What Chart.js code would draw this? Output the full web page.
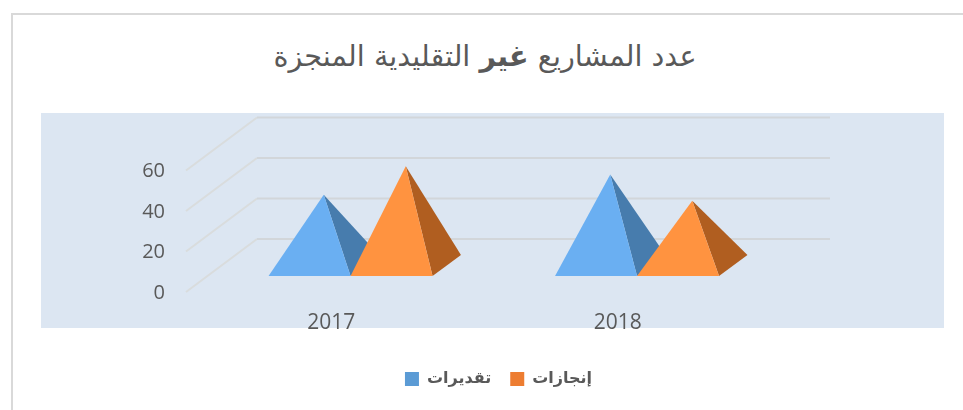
<!DOCTYPE html>
<html lang="ar">
<head>
<meta charset="utf-8">
<title>عدد المشاريع غير التقليدية المنجزة</title>
<script src="https://cdn.jsdelivr.net/npm/chart.js@4/dist/chart.umd.min.js"></script>
<style>
    html, body { margin: 0; padding: 0; background: #fff; overflow: hidden; }
    #wrap { position: relative; width: 963px; height: 410px; }
    #frame { position: absolute; left: 11px; top: 13px; right: 0; bottom: 0; border-left: 2px solid #d9d9d9; border-top: 2px solid #d9d9d9; }
    #panel { position: absolute; left: 41px; top: 113px; width: 903px; height: 215px; background: #dce6f2; }
    #title { position: absolute; left: 235px; width: 500px; top: 39px; text-align: center; direction: rtl; white-space: nowrap;
             font: 28.7px "DejaVu Sans", sans-serif; color: #595959; }
    canvas { position: absolute; left: 0; top: 0; }
</style>
</head>
<body>
<div id="wrap">
    <div id="frame"></div>
    <div id="panel"></div>
    <div id="title">عدد المشاريع <b>غير</b> التقليدية المنجزة</div>
    <canvas id="chart" width="963" height="410"></canvas>
</div>
<script>
    const categories = ['2017', '2018'];
    const seriesNames = ['تقديرات', 'إنجازات'];
    const estimates = [35, 45];
    const achievements = [49, 32];
    const yTicks = [0, 20, 40, 60];

    // 3D look: how far the floor runs back, and where the bars sit on it
    const FLOOR_DX = 71;
    const FLOOR_DY = 53;
    const BAR_FRONT = 0.3;
    const BAR_BACK = 0.7;

    const faces = [
        { front: '#6aaff2', side: '#477cad' },
        { front: '#ff9340', side: '#b05e20' },
    ];

    const pyramids = {
        id: 'pyramids',
        afterLayout(chart) {
            // legend sits centred on the whole panel, not on the plot
            chart.legend.left = 0;
            chart.legend.right = 997;
        },
        beforeDatasetsDraw(chart) {
            const { ctx, chartArea, scales: { y } } = chart;
            ctx.save();
            ctx.lineWidth = 2;
            yTicks.forEach(v => {
                const py = y.getPixelForValue(v);
                ctx.strokeStyle = '#d9dcdd';
                ctx.beginPath();
                ctx.moveTo(chartArea.left, py);
                ctx.lineTo(chartArea.left + FLOOR_DX, py - FLOOR_DY);
                ctx.stroke();
                ctx.strokeStyle = '#d2d6da';
                ctx.beginPath();
                ctx.moveTo(chartArea.left + FLOOR_DX, py - FLOOR_DY);
                ctx.lineTo(chartArea.right + FLOOR_DX, py - FLOOR_DY);
                ctx.stroke();
            });
            ctx.restore();
        },
        // the plain bars are only used for their positions
        beforeDatasetDraw() {
            return false;
        },
        afterDatasetsDraw(chart) {
            const { ctx } = chart;
            chart.data.datasets.forEach((ds, i) => {
                const colors = faces[i];
                chart.getDatasetMeta(i).data.forEach(bar => {
                    const half = bar.width / 2;
                    const fx = FLOOR_DX * BAR_FRONT, fy = FLOOR_DY * BAR_FRONT;
                    const bx = FLOOR_DX * BAR_BACK, by = FLOOR_DY * BAR_BACK;
                    const apex = [bar.x + (fx + bx) / 2, bar.y - (fy + by) / 2];
                    const left = [bar.x - half + fx, bar.base - fy];
                    const right = [bar.x + half + fx, bar.base - fy];
                    const rear = [right[0] + (bx - fx), right[1] - (by - fy)];
                    fillTri(ctx, apex, right, rear, colors.side);
                    fillTri(ctx, apex, left, right, colors.front);
                });
            });
        },
    };

    function fillTri(ctx, a, b, c, color) {
        ctx.fillStyle = color;
        ctx.beginPath();
        ctx.moveTo(a[0], a[1]);
        ctx.lineTo(b[0], b[1]);
        ctx.lineTo(c[0], c[1]);
        ctx.closePath();
        ctx.fill();
    }

    new Chart(document.getElementById('chart'), {
        type: 'bar',
        data: {
            labels: categories,
            datasets: [
                { label: seriesNames[0], data: estimates, backgroundColor: '#5b9bd5' },
                { label: seriesNames[1], data: achievements, backgroundColor: '#ed7d31' },
            ],
        },
        plugins: [pyramids],
        options: {
            responsive: false,
            animation: false,
            categoryPercentage: 0.5725,
            barPercentage: 1,
            layout: { padding: { left: 0, right: 204, top: 170.5, bottom: 13 } },
            plugins: {
                title: { display: false },
                tooltip: { enabled: false },
                legend: {
                    position: 'bottom',
                    labels: {
                        boxWidth: 14,
                        boxHeight: 14,
                        padding: 19,
                        color: '#595959',
                        font: { family: '"DejaVu Sans", sans-serif', size: 16, weight: 'bold' },
                    },
                },
            },
            scales: {
                x: {
                    grid: { display: false },
                    border: { display: false },
                    ticks: { color: '#595959', padding: 10, labelOffset: 2, font: { family: '"Open Sans", sans-serif', size: 21 } },
                    afterFit(s) { s.height = 60; },
                },
                y: {
                    min: 0,
                    max: 60,
                    grid: { display: false },
                    border: { display: false },
                    afterBuildTicks(s) { s.ticks = yTicks.map(v => ({ value: v })); },
                    ticks: { color: '#595959', padding: 13, labelOffset: 1, font: { family: '"Open Sans", sans-serif', size: 20 } },
                    afterFit(s) { s.width = 186; s.paddingTop = 0; s.paddingBottom = 0; },
                },
            },
        },
    });
</script>
</body>
</html>
